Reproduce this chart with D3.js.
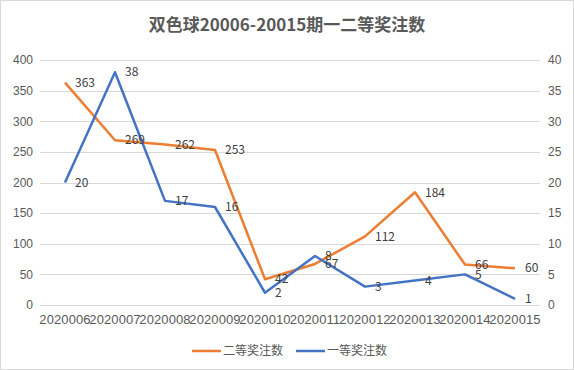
<!DOCTYPE html>
<html>
  <head>
    <meta charset="utf-8" />
    <title>双色球一二等奖注数</title>
    <style>
      body { margin: 0; background: #fff; }
      svg { display: block; font-family: "Noto Sans CJK SC", "Noto Sans", sans-serif; }
      .grid line { stroke: #d9d9d9; }
      .axis text { fill: #595959; font-size: 12px; }
      .xaxis text { font-size: 13px; letter-spacing: 0.1px; }
      .lbl { fill: #404040; font-size: 12px; }
    </style>
    <script src="https://d3js.org/d3.v7.min.js"></script>
  </head>
  <body>
    <div id="chart"></div>
    <script>
      const periods = ["2020006", "2020007", "2020008", "2020009", "2020010", "2020011", "2020012", "2020013", "2020014", "2020015"];
      const second = [363, 269, 262, 253, 42, 67, 112, 184, 66, 60];
      const first = [20, 38, 17, 16, 2, 8, 3, 4, 5, 1];
      const leftTicks = [0, 50, 100, 150, 200, 250, 300, 350, 400];
      const rightTicks = [0, 5, 10, 15, 20, 25, 30, 35, 40];

      const W = 574, H = 370;
      const margin = { top: 60, right: 34, bottom: 65, left: 40 };

      const svg = d3.select("#chart").append("svg")
        .attr("width", W).attr("height", H);

      svg.append("rect")
        .attr("x", 0.5).attr("y", 0.5)
        .attr("width", W - 1).attr("height", H - 1)
        .attr("fill", "#fff").attr("stroke", "#d9d9d9");

      const x = d3.scaleBand().domain(periods).range([margin.left, W - margin.right]);
      const yL = d3.scaleLinear().domain([0, 400]).range([H - margin.bottom, margin.top]);
      const yR = d3.scaleLinear().domain([0, 40]).range([H - margin.bottom, margin.top]);

      // gridlines
      svg.append("g").attr("class", "grid")
        .selectAll("line").data(leftTicks).join("line")
        .attr("x1", margin.left).attr("x2", W - margin.right)
        .attr("y1", d => Math.round(yL(d)) + 0.5).attr("y2", d => Math.round(yL(d)) + 0.5);

      // left axis
      svg.append("g").attr("class", "axis")
        .attr("transform", `translate(${margin.left - 7},0)`)
        .call(d3.axisLeft(yL).tickValues(leftTicks).tickSize(0).tickPadding(0))
        .call(g => g.select(".domain").remove());

      // right axis
      svg.append("g").attr("class", "axis")
        .attr("transform", `translate(${W - margin.right + 8},0)`)
        .call(d3.axisRight(yR).tickValues(rightTicks).tickSize(0).tickPadding(0))
        .call(g => g.select(".domain").remove());

      // x axis labels
      svg.append("g").attr("class", "axis xaxis")
        .attr("transform", `translate(0,${H - margin.bottom + 10})`)
        .call(d3.axisBottom(x).tickSize(0).tickPadding(0))
        .call(g => g.select(".domain").remove())
        .selectAll("text").attr("dy", "0.71em");

      const cx = d => x(d) + x.bandwidth() / 2;

      const series = [
        { name: "二等奖注数", values: second, y: yL, color: "#ED7D31" },
        { name: "一等奖注数", values: first, y: yR, color: "#4472C4" }
      ];

      series.forEach(s => {
        const line = d3.line()
          .x((d, i) => cx(periods[i]))
          .y(d => s.y(d));
        svg.append("path")
          .datum(s.values)
          .attr("fill", "none")
          .attr("stroke", s.color)
          .attr("stroke-width", 2.5)
          .attr("stroke-linejoin", "round")
          .attr("d", line);
      });

      series.forEach(s => {
        svg.append("g").selectAll("text").data(s.values).join("text")
          .attr("class", "lbl")
          .attr("x", (d, i) => cx(periods[i]) + 10)
          .attr("y", d => s.y(d))
          .attr("dy", "0.35em")
          .text(d => d);
      });

      // title
      svg.append("text")
        .attr("x", W / 2).attr("y", 31)
        .attr("text-anchor", "middle")
        .attr("fill", "#595959")
        .attr("font-size", 17).attr("font-weight", "bold")
        .text("双色球20006-20015期一二等奖注数");

      // legend
      const legend = svg.append("g").attr("transform", `translate(192,${H - 19})`);
      let lx = 0;
      series.forEach(s => {
        legend.append("line")
          .attr("x1", lx).attr("x2", lx + 29)
          .attr("stroke", s.color).attr("stroke-width", 2.5);
        legend.append("text")
          .attr("x", lx + 31).attr("dy", "0.35em")
          .attr("fill", "#595959").attr("font-size", 12)
          .text(s.name);
        lx += 104;
      });
    </script>
  </body>
</html>
